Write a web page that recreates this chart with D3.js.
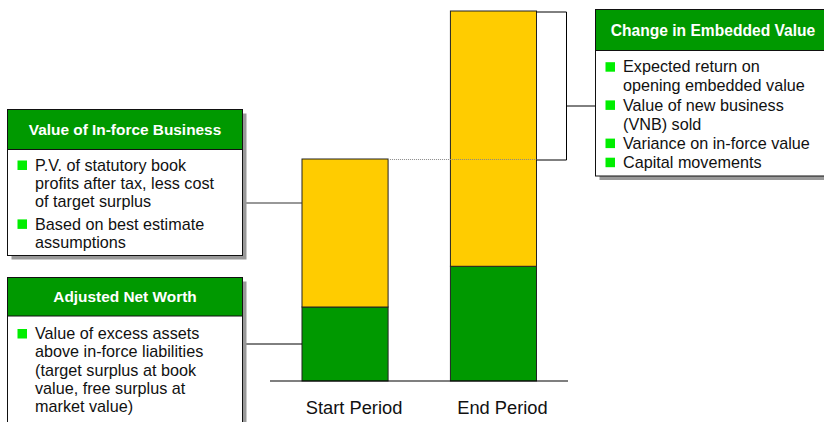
<!DOCTYPE html>
<html>
<head>
<meta charset="utf-8">
<script src="https://cdn.jsdelivr.net/npm/d3@7/dist/d3.min.js"></script>
<style>
  html, body { margin: 0; padding: 0; background: #fff; overflow: hidden; }
  svg { display: block; font-family: "Liberation Sans", Arial, Helvetica, sans-serif; }
</style>
</head>
<body>
<svg id="chart" width="824" height="422"></svg>
<script>
// ---- data ----
const categories = ["Start Period", "End Period"];
const adjustedNetWorth = [20, 31];      // green segment
const valueInForce = [40, 69];          // yellow segment
const yTicks = [0, 100];                // value domain

const boxTitles = ["Value of In-force Business", "Adjusted Net Worth", "Change in Embedded Value"];
const vifBullets = [
  ["P.V. of statutory book", "profits after tax, less cost", "of target surplus"],
  ["Based on best estimate", "assumptions"]
];
const anwBullets = [
  ["Value of excess assets", "above in-force liabilities", "(target surplus at book", "value, free surplus at", "market value)"]
];
const cevBullets = [
  ["Expected return on", "opening embedded value"],
  ["Value of new business", "(VNB) sold"],
  ["Variance on in-force value"],
  ["Capital movements"]
];

// ---- styles ----
const GREEN = "#009900";
const YELLOW = "#ffcc00";
const BULLET = "#00ee00";
const SHADOW = "#999999";

const svg = d3.select("#chart");

const y = d3.scaleLinear().domain(yTicks).range([381, 11]);
const x = d3.scaleBand().domain(categories).range([302, 536.5]).paddingInner(0.42).paddingOuter(0);

// stacked data
const rows = categories.map((c, i) => ({ cat: c, anw: adjustedNetWorth[i], vif: valueInForce[i] }));
const stack = d3.stack().keys(["anw", "vif"])(rows);
const colors = { anw: GREEN, vif: YELLOW };

svg.append("g").selectAll("g").data(stack).join("g")
  .attr("fill", d => colors[d.key])
  .selectAll("rect").data(d => d).join("rect")
  .attr("x", d => x(d.data.cat))
  .attr("width", x.bandwidth())
  .attr("y", d => y(d[1]))
  .attr("height", d => y(d[0]) - y(d[1]))
  .attr("stroke", "#222")
  .attr("stroke-width", 1);

// baseline
svg.append("line")
  .attr("x1", 270).attr("x2", 568)
  .attr("y1", y(0)).attr("y2", y(0))
  .attr("stroke", "#000").attr("stroke-width", 1.2);

// category labels via axis
const axis = svg.append("g")
  .attr("transform", `translate(9, ${y(0)})`)
  .call(d3.axisBottom(x).tickSize(0).tickPadding(20));
axis.select(".domain").remove();
axis.selectAll("text")
  .attr("font-size", "18.3px")
  .attr("font-family", "'Liberation Sans', Arial, sans-serif")
  .attr("fill", "#111");

// dotted line from start total to end bar
const startTotal = adjustedNetWorth[0] + valueInForce[0];
const endTotal = adjustedNetWorth[1] + valueInForce[1];
svg.append("line")
  .attr("x1", x(categories[0]) + x.bandwidth()).attr("x2", x(categories[1]) + x.bandwidth())
  .attr("y1", y(startTotal) + 0.5).attr("y2", y(startTotal) + 0.5)
  .attr("stroke", "#888").attr("stroke-width", 1).attr("stroke-dasharray", "1,1");

// bracket on end bar
const bx0 = x(categories[1]) + x.bandwidth();
const bx1 = 566.5;
svg.append("path")
  .attr("d", `M${bx0},${y(endTotal) + 1}H${bx1}V${y(startTotal) + 1}H${bx0}M${bx1},106H595`)
  .attr("fill", "none").attr("stroke", "#000").attr("stroke-width", 1);

// connectors to left boxes
svg.append("line").attr("x1", 246).attr("x2", x(categories[0])).attr("y1", 203).attr("y2", 203)
  .attr("stroke", "#333").attr("stroke-width", 1.2);
svg.append("line").attr("x1", 246).attr("x2", x(categories[0]))
  .attr("y1", (y(0) + y(adjustedNetWorth[0])) / 2).attr("y2", (y(0) + y(adjustedNetWorth[0])) / 2)
  .attr("stroke", "#000").attr("stroke-width", 1);

// ---- boxes ----
function box(cfg) {
  const g = svg.append("g");
  g.append("rect").attr("x", cfg.x + 4).attr("y", cfg.y + 4).attr("width", cfg.w).attr("height", cfg.h).attr("fill", SHADOW);
  g.append("rect").attr("x", cfg.x).attr("y", cfg.y).attr("width", cfg.w).attr("height", cfg.h)
    .attr("fill", "#fff").attr("stroke", "#111").attr("stroke-width", 1);
  g.append("rect").attr("x", cfg.x).attr("y", cfg.y).attr("width", cfg.w).attr("height", cfg.hh)
    .attr("fill", GREEN).attr("stroke", "#111").attr("stroke-width", 1);
  g.append("text").attr("x", cfg.tx).attr("y", cfg.y + cfg.hh / 2).attr("dy", "0.36em")
    .attr("text-anchor", "middle").attr("fill", "#fff").attr("font-weight", "bold")
    .attr("font-size", cfg.titleSize + "px").text(cfg.title);
  let ly = cfg.firstLine;
  cfg.bullets.forEach(lines => {
    g.append("rect").attr("x", cfg.bx).attr("y", ly - 4.5).attr("width", 9.5).attr("height", 9.5).attr("fill", BULLET);
    lines.forEach(t => {
      g.append("text").attr("x", cfg.textX).attr("y", ly).attr("dy", "0.35em")
        .attr("font-size", cfg.fontSize + "px").attr("fill", "#111").text(t);
      ly += cfg.lh;
    });
    ly += cfg.gap;
  });
}

box({ x: 7.5, y: 109.5, w: 235, h: 146, hh: 40, tx: 125, title: boxTitles[0], titleSize: 15.4,
      bullets: vifBullets, firstLine: 165, lh: 18.3, gap: 4, bx: 17.5, textX: 35, fontSize: 16.2 });
box({ x: 7.5, y: 277.5, w: 235, h: 160, hh: 38.5, tx: 125, title: boxTitles[1], titleSize: 15.4,
      bullets: anwBullets, firstLine: 333.5, lh: 18.3, gap: 0, bx: 17.5, textX: 35, fontSize: 16.2 });
box({ x: 595.5, y: 9.5, w: 240, h: 166.5, hh: 41, tx: 713, title: boxTitles[2], titleSize: 15.6,
      bullets: cevBullets, firstLine: 66.7, lh: 19.1, gap: 0, bx: 605.5, textX: 623, fontSize: 16.2 });
</script>
</body>
</html>
